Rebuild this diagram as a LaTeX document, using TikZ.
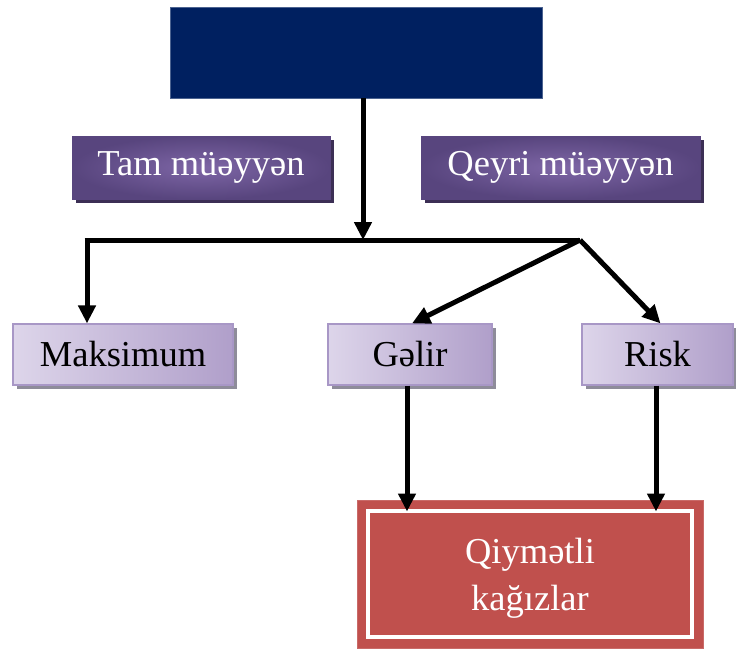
\documentclass[tikz,border=0pt]{standalone}
\usepackage{fontspec}
\setmainfont{Liberation Serif}
\usetikzlibrary{arrows.meta,shadows}
\definecolor{navy}{HTML}{002060}
\definecolor{purpin}{HTML}{7E66A6}
\definecolor{purpout}{HTML}{58457E}
\definecolor{purpshadow}{HTML}{3C2F55}
\definecolor{lavleft}{HTML}{DDD5EA}
\definecolor{lavmid}{HTML}{F0EBF5}
\definecolor{lavright}{HTML}{B09FCA}
\definecolor{lavborder}{HTML}{A897C6}
\definecolor{lavshadow}{HTML}{8E8C9A}
\definecolor{redbox}{HTML}{C0504D}
\tikzset{
  bigtext/.style={font=\fontsize{36.5}{47}\selectfont, align=center},
  darkbox/.style={bigtext, text=white, rectangle, inner sep=0pt,
    inner color=purpin, outer color=purpout, draw=purpout, line width=0.8pt,
    drop shadow={shadow xshift=4pt, shadow yshift=-4pt, fill=purpshadow, opacity=1}},
  lightbox/.style={bigtext, text=black, rectangle, inner sep=0pt,
    left color=lavleft, middle color=lavmid, right color=lavright,
    draw=lavborder, line width=1.2pt,
    drop shadow={shadow xshift=4pt, shadow yshift=-4pt, fill=lavshadow, opacity=1}},
  conn/.style={line width=5pt, draw=black},
  arr/.style={conn, -{Triangle[length=18pt,width=17pt]}},
}
\begin{document}
\begin{tikzpicture}[x=1pt,y=-1pt]
\useasboundingbox (0,0) rectangle (736,651);
% top box
\node[fill=navy, draw=navy!70!white, line width=0.6pt, minimum width=372pt, minimum height=91pt, inner sep=0pt] (top) at (356,52.5) {};
% purple boxes
\node[darkbox, minimum width=258pt, minimum height=63pt] (tam) at (201,167.5) {Tam müəyyən};
\node[darkbox, minimum width=279pt, minimum height=63pt] (qeyri) at (560.5,167.5) {Qeyri müəyyən};
% light boxes
\node[lightbox, minimum width=220pt, minimum height=61pt] (maks) at (123,354.5) {Maksimum};
\node[lightbox, minimum width=164pt, minimum height=61pt] (gelir) at (410,354.5) {Gəlir};
\node[lightbox, minimum width=151pt, minimum height=61pt] (risk) at (657.5,354.5) {Risk};
% red box
\node[bigtext, text=white, fill=redbox, draw=redbox!85!white, line width=0.8pt, minimum width=346pt, minimum height=148pt, inner sep=0pt] (qk) at (530,574) {};
\node[bigtext, text=white, inner sep=0pt] (qktext) at (530,578) {Qiymətli\\kağızlar};
\draw[white, line width=4pt] ([shift={(11.5,11.5)}]qk.north west) rectangle ([shift={(-11.5,-11.5)}]qk.south east);
% junction coordinates
\coordinate (jL) at (87,240);
\coordinate (jM) at (363,240);
\coordinate (jR) at (580,240);
\coordinate (ga) at (407,511.5);
\coordinate (ra) at (656,511.5);
% connectors
\draw[arr] (top.south -| jM) -- (jM);
\draw[conn, line cap=butt] ([xshift=-2.5pt]jL) -- (jR);
\draw[arr] ([yshift=-2.5pt]jL) -- (jL |- maks.north);
\draw[arr] (jR) -- ([xshift=2pt]gelir.north);
\draw[arr] (jR) -- ([xshift=3pt]risk.north);
\draw[arr] (gelir.south -| ga) -- (ga);
\draw[arr] (risk.south -| ra) -- (ra);
\end{tikzpicture}
\end{document}
